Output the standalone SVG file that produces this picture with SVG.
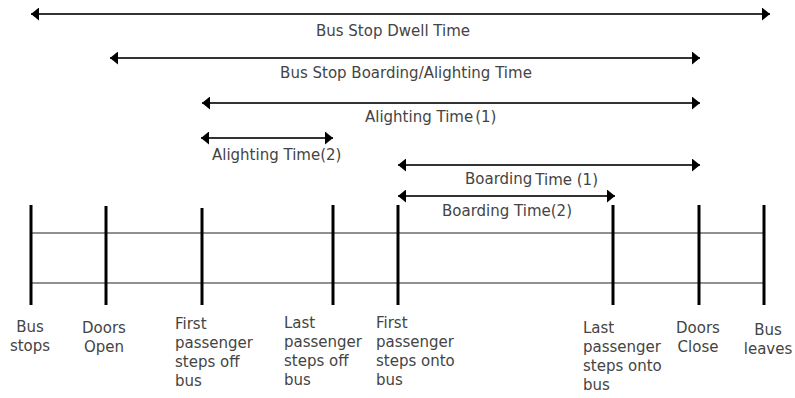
<svg xmlns="http://www.w3.org/2000/svg" width="795" height="398" viewBox="0 0 795 398">
<style>
.span{stroke:#333;stroke-width:2;fill:none;marker-start:url(#ah);marker-end:url(#ah)}
.tick{stroke:#000;stroke-width:3}
.rail{stroke:#222;stroke-width:1.2}
text{font-family:"DejaVu Sans","Liberation Sans",sans-serif;font-size:15px;fill:#444}
.c{text-anchor:middle}
</style>
<defs>
<marker id="ah" markerUnits="userSpaceOnUse" markerWidth="9" markerHeight="13" refX="8" refY="6.5" orient="auto-start-reverse">
<path d="M0,0 L8,6.5 L0,13 z" fill="#000"/>
</marker>
</defs>
<rect width="795" height="398" fill="#fff"/>
<g id="connectors">
<line class="span" x1="31" y1="14" x2="770" y2="14"/>
<line class="span" x1="110" y1="58" x2="700" y2="58"/>
<line class="span" x1="202" y1="103" x2="700" y2="103"/>
<line class="span" x1="201" y1="138" x2="333" y2="138"/>
<line class="span" x1="398" y1="165" x2="700" y2="165"/>
<line class="span" x1="398" y1="196" x2="615" y2="196"/>
</g>
<g id="span-labels">
<text class="c" x="393" y="36">Bus Stop Dwell Time</text>
<text class="c" x="406" y="78">Bus Stop Boarding/Alighting Time</text>
<text x="365" y="122">Alighting Time<tspan dx="2">(1)</tspan></text>
<text x="212" y="160">Alighting Time(2)</text>
<text x="465" y="184">Boarding<tspan dx="3" dy="1">Time (1)</tspan></text>
<text x="442" y="216">Boarding Time(2)</text>
</g>
<g id="timeline">
<line class="rail" x1="31" y1="233" x2="764" y2="233"/>
<line class="rail" x1="31" y1="283" x2="764" y2="283"/>
</g>
<g id="bus-stops"><line class="tick" x1="31" y1="205" x2="31" y2="305"/><text class="c" x="30"><tspan x="30" y="332">Bus</tspan><tspan x="30" y="351">stops</tspan></text></g>
<g id="doors-open"><line class="tick" x1="106" y1="206" x2="106" y2="305"/><text class="c" x="104"><tspan x="104" y="333">Doors</tspan><tspan x="104" y="352">Open</tspan></text></g>
<g id="first-off"><line class="tick" x1="202" y1="208" x2="202" y2="305"/><text><tspan x="175" y="329">First</tspan><tspan x="175" y="348">passenger</tspan><tspan x="175" y="367">steps off</tspan><tspan x="175" y="386">bus</tspan></text></g>
<g id="last-off"><line class="tick" x1="333" y1="205" x2="333" y2="305"/><text><tspan x="284" y="328">Last</tspan><tspan x="284" y="347">passenger</tspan><tspan x="284" y="366">steps off</tspan><tspan x="284" y="385">bus</tspan></text></g>
<g id="first-onto"><line class="tick" x1="398" y1="205" x2="398" y2="305"/><text><tspan x="376" y="328">First</tspan><tspan x="376" y="347">passenger</tspan><tspan x="376" y="366">steps onto</tspan><tspan x="376" y="385">bus</tspan></text></g>
<g id="last-onto"><line class="tick" x1="613" y1="205" x2="613" y2="305"/><text><tspan x="583" y="333">Last</tspan><tspan x="583" y="352">passenger</tspan><tspan x="583" y="371">steps onto</tspan><tspan x="583" y="390">bus</tspan></text></g>
<g id="doors-close"><line class="tick" x1="699" y1="205" x2="699" y2="305"/><text class="c"><tspan x="698" y="333">Doors</tspan><tspan x="698" y="352">Close</tspan></text></g>
<g id="bus-leaves"><line class="tick" x1="764" y1="205" x2="764" y2="305"/><text class="c"><tspan x="768" y="335">Bus</tspan><tspan x="768" y="354">leaves</tspan></text></g>
</svg>
